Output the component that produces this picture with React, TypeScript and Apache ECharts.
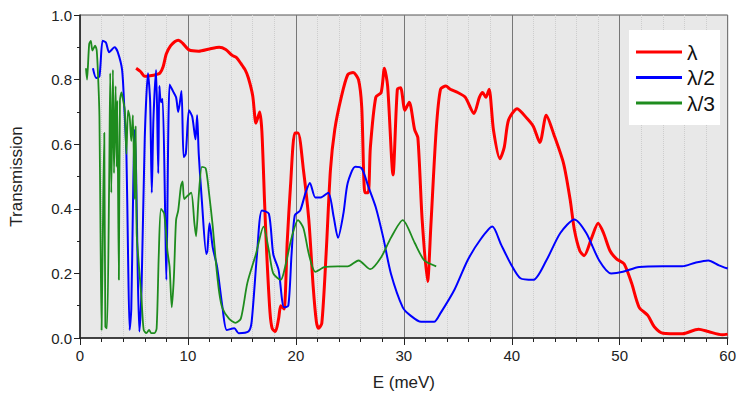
import React, { useEffect, useRef } from "react";
import * as echarts from "echarts";

const seriesNames = ["λ", "λ/2", "λ/3"];
const seriesColors = ["#ff0000", "#0000ff", "#1e8c1e"];

const redE = [5.2,5.6,6.0,6.5,7.0,7.4,7.7,8.0,8.4,8.8,9.1,9.5,10.1,11.0,12.0,12.9,13.5,14.1,14.5,14.9,15.3,15.6,16.0,16.3,16.5,16.65,16.85,17.1,17.3,17.6,17.8,18.1,18.4,18.6,18.9,19.2,19.5,19.9,20.2,20.7,21.2,21.6,21.9,22.1,22.4,22.8,23.2,23.6,24.2,24.8,25.3,25.8,26.1,26.4,26.7,26.9,27.4,27.9,28.2,28.5,29.0,29.4,29.7,30.1,30.5,31.0,31.3,31.7,32.2,32.5,33.0,33.4,33.9,34.3,35.0,35.7,36.5,37.0,37.3,37.6,37.9,38.3,38.9,39.3,39.7,40.5,41.4,42.0,42.6,43.2,43.9,44.8,45.4,45.8,46.3,46.7,47.4,48.0,48.5,49.1,49.7,50.4,51.1,51.8,52.6,53.2,54.0,55.8,57.3,58.2,59.5,60.0];
const redT = [0.835,0.825,0.81,0.812,0.815,0.82,0.84,0.88,0.905,0.918,0.922,0.913,0.892,0.888,0.895,0.9,0.893,0.875,0.868,0.85,0.83,0.805,0.75,0.665,0.685,0.7,0.64,0.42,0.26,0.08,0.03,0.02,0.06,0.1,0.09,0.3,0.47,0.635,0.635,0.52,0.365,0.16,0.05,0.03,0.045,0.26,0.52,0.645,0.745,0.815,0.822,0.8,0.715,0.45,0.45,0.59,0.745,0.76,0.835,0.78,0.505,0.77,0.775,0.705,0.73,0.645,0.62,0.365,0.175,0.345,0.645,0.77,0.78,0.77,0.76,0.745,0.695,0.745,0.76,0.745,0.77,0.645,0.555,0.59,0.675,0.71,0.68,0.655,0.605,0.69,0.63,0.54,0.43,0.335,0.27,0.255,0.31,0.355,0.325,0.27,0.245,0.23,0.17,0.095,0.07,0.035,0.015,0.013,0.027,0.02,0.01,0.012];

const blueE = [1.2,1.5,1.8,2.1,2.4,2.7,3.2,3.5,3.9,4.1,4.3,4.45,4.6,4.75,4.9,5.05,5.2,5.35,5.5,5.7,6.0,6.3,6.5,6.65,6.8,7.05,7.25,7.35,7.5,7.65,7.9,8.0,8.3,8.6,8.9,9.1,9.4,9.6,9.8,10.1,10.4,10.7,10.85,11.0,11.3,11.7,11.8,12.0,12.3,12.7,13.2,13.6,14.3,14.7,15.6,15.9,16.4,16.85,17.5,17.9,18.4,18.9,19.3,19.6,19.9,20.4,20.9,21.3,21.8,22.3,23.0,23.5,23.9,24.4,24.8,25.5,26.1,26.7,27.4,28.1,28.8,29.9,30.6,31.6,32.8,33.4,34.7,35.9,37.1,38.2,39.0,39.9,40.8,42.0,43.2,44.5,45.8,46.9,48.1,49.2,50.3,51.8,54.0,55.8,57.0,58.2,59.2,60.0];
const blueT = [0.835,0.805,0.81,0.92,0.915,0.885,0.9,0.885,0.83,0.715,0.57,0.26,0.025,0.09,0.4,0.645,0.51,0.2,0.02,0.15,0.62,0.82,0.73,0.45,0.675,0.83,0.51,0.78,0.73,0.74,0.365,0.18,0.785,0.765,0.745,0.7,0.765,0.56,0.57,0.705,0.685,0.615,0.69,0.57,0.42,0.26,0.27,0.355,0.28,0.22,0.095,0.025,0.03,0.015,0.02,0.05,0.26,0.395,0.385,0.26,0.21,0.095,0.1,0.26,0.38,0.395,0.45,0.48,0.435,0.435,0.45,0.375,0.31,0.385,0.48,0.53,0.525,0.47,0.405,0.31,0.2,0.095,0.07,0.05,0.05,0.077,0.15,0.24,0.305,0.345,0.29,0.23,0.185,0.18,0.24,0.325,0.367,0.325,0.24,0.2,0.205,0.22,0.222,0.222,0.233,0.24,0.225,0.215];

const greenE = [0.55,0.65,0.85,1.0,1.15,1.4,1.55,1.7,1.8,1.9,2.0,2.15,2.25,2.35,2.5,2.7,2.8,2.9,3.05,3.15,3.3,3.4,3.45,3.6,3.7,3.85,4.0,4.15,4.3,4.45,4.6,4.75,4.9,5.05,5.15,5.25,5.4,5.7,5.9,6.15,6.4,6.6,6.9,7.1,7.3,7.5,7.8,8.1,8.3,8.5,8.7,8.9,9.1,9.35,9.5,9.65,9.95,10.3,10.6,10.75,11.0,11.3,11.65,11.95,12.3,12.6,12.9,13.2,13.8,14.4,14.9,15.5,16.3,17.0,17.5,17.9,18.6,19.0,19.6,20.2,20.7,21.2,21.8,22.7,23.9,24.8,25.8,26.9,27.9,28.8,29.9,31.0,31.9,33.0];
const greenT = [0.835,0.8,0.91,0.92,0.89,0.905,0.89,0.79,0.685,0.325,0.025,0.43,0.635,0.035,0.03,0.48,0.82,0.45,0.83,0.51,0.78,0.53,0.735,0.18,0.735,0.76,0.735,0.705,0.57,0.705,0.685,0.61,0.69,0.43,0.655,0.325,0.25,0.12,0.025,0.015,0.025,0.015,0.015,0.03,0.26,0.4,0.385,0.27,0.22,0.095,0.19,0.365,0.395,0.47,0.485,0.43,0.44,0.45,0.355,0.315,0.44,0.53,0.525,0.45,0.345,0.23,0.14,0.092,0.06,0.047,0.06,0.17,0.26,0.345,0.27,0.2,0.18,0.22,0.31,0.365,0.34,0.26,0.205,0.22,0.222,0.222,0.24,0.213,0.25,0.31,0.365,0.295,0.24,0.222];

const xTicks = { min: 0, max: 60, interval: 10 };
const yTicks = { min: 0, max: 1, interval: 0.2 };

const pairs = (xs: number[], ys: number[]) => xs.map((x, i) => [x, ys[i]]);

const FONT = "'Liberation Sans', Arial, sans-serif";

export default function App() {
  const ref = useRef<HTMLDivElement>(null);
  useEffect(() => {
    if (!ref.current) return;
    const chart = echarts.init(ref.current, undefined, { renderer: "svg" });
    const data = [pairs(redE, redT), pairs(blueE, blueT), pairs(greenE, greenT)];
    const widths = [3, 2, 1.8];
    chart.setOption({
      animation: false,
      backgroundColor: "#ffffff",
      textStyle: { fontFamily: FONT },
      grid: {
        left: 80,
        right: 7,
        top: 15,
        bottom: 58,
        show: true,
        backgroundColor: "#e8e8e8",
        borderColor: "#555555",
        borderWidth: 1,
      },
      legend: {
        orient: "vertical",
        left: 629,
        top: 30,
        padding: [11, 5, 11, 7],
        backgroundColor: "#ffffff",
        itemGap: 3.5,
        itemWidth: 46,
        itemHeight: 3,
        icon: "rect",
        textStyle: { fontSize: 21, color: "#111", fontFamily: FONT, lineHeight: 22 },
        data: seriesNames,
      },
      xAxis: {
        type: "value",
        min: xTicks.min,
        max: xTicks.max,
        interval: xTicks.interval,
        name: "E (meV)",
        nameLocation: "middle",
        nameGap: 36,
        nameTextStyle: { fontSize: 17, color: "#222", fontFamily: FONT },
        axisLine: { show: true, onZero: false, lineStyle: { color: "#222", width: 1.5 } },
        axisTick: { show: true, length: 7, lineStyle: { color: "#222", width: 1 } },
        minorTick: { show: true, splitNumber: 5, length: 4, lineStyle: { color: "#222", width: 1 } },
        splitLine: { show: true, lineStyle: { color: "#777777", width: 1 } },
        minorSplitLine: { show: true, lineStyle: { color: "#cdcdcd", width: 1, type: "dotted" } },
        axisLabel: { fontSize: 15, color: "#222", margin: 10, fontFamily: FONT },
      },
      yAxis: {
        type: "value",
        min: yTicks.min,
        max: yTicks.max,
        interval: yTicks.interval,
        name: "Transmission",
        nameLocation: "middle",
        nameGap: 55,
        nameTextStyle: { fontSize: 17, color: "#222", fontFamily: FONT },
        axisLine: { show: true, onZero: false, lineStyle: { color: "#222", width: 1.5 } },
        axisTick: { show: true, length: 6, lineStyle: { color: "#222", width: 1 } },
        minorTick: { show: true, splitNumber: 2, length: 3, lineStyle: { color: "#222", width: 1 } },
        splitLine: { show: false },
        axisLabel: {
          fontSize: 15,
          color: "#222",
          margin: 8,
          fontFamily: FONT,
          formatter: (v: number) => v.toFixed(1),
        },
      },
      series: seriesNames.map((name, i) => ({
        name,
        type: "line",
        data: data[i],
        showSymbol: false,
        smooth: 0.25,
        color: seriesColors[i],
        lineStyle: { color: seriesColors[i], width: widths[i] },
      })),
    });
    return () => chart.dispose();
  }, []);
  return (
    <div
      ref={ref}
      style={{ position: "fixed", left: 0, top: 0, width: 739, height: 396, background: "#fff" }}
    />
  );
}
